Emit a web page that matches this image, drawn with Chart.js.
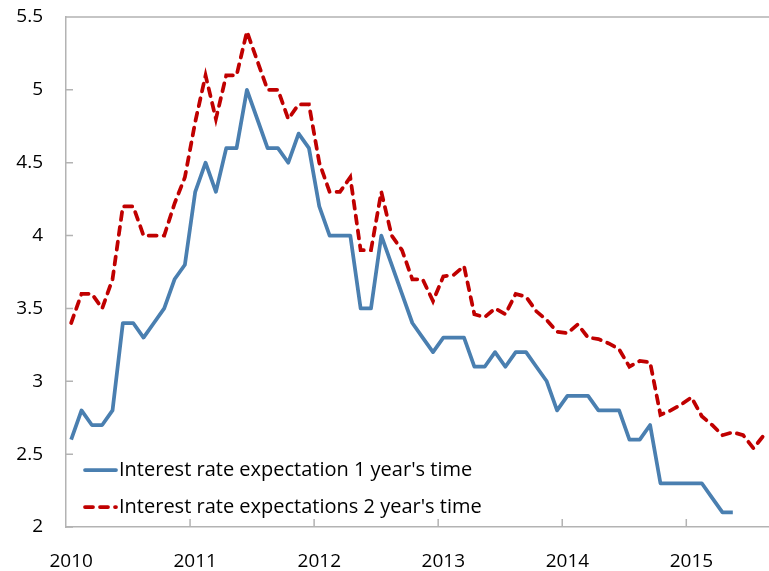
<!DOCTYPE html>
<html>
<head>
<meta charset="utf-8">
<script src="https://cdn.jsdelivr.net/npm/chart.js@4"></script>
<style>
    html, body { margin: 0; padding: 0; background: #fff; }
    #wrap { width: 769px; height: 571px; }
</style>
</head>
<body>
<div id="wrap"><canvas id="rateChart" width="769" height="571"></canvas></div>
<script>
const years = ['2010', '2011', '2012', '2013', '2014', '2015'];
const monthsIn2015 = 8;

// one label per month, Jan 2010 - Aug 2015
const months = [];
years.forEach(y => {
    const n = y === '2015' ? monthsIn2015 : 12;
    for (let m = 1; m <= n; m++) months.push(y + '-' + String(m).padStart(2, '0'));
});

const oneYear = [
    2.6, 2.8, 2.7, 2.7, 2.8, 3.4, 3.4, 3.3, 3.4, 3.5, 3.7, 3.8,
    4.3, 4.5, 4.3, 4.6, 4.6, 5.0, 4.8, 4.6, 4.6, 4.5, 4.7, 4.6,
    4.2, 4.0, 4.0, 4.0, 3.5, 3.5, 4.0, 3.8, 3.6, 3.4, 3.3, 3.2,
    3.3, 3.3, 3.3, 3.1, 3.1, 3.2, 3.1, 3.2, 3.2, 3.1, 3.0, 2.8,
    2.9, 2.9, 2.9, 2.8, 2.8, 2.8, 2.6, 2.6, 2.7, 2.3, 2.3, 2.3,
    2.3, 2.3, 2.2, 2.1, 2.1
];

const twoYear = [
    3.4, 3.6, 3.6, 3.5, 3.7, 4.2, 4.2, 4.0, 4.0, 4.0, 4.22, 4.4,
    4.78, 5.1, 4.8, 5.1, 5.1, 5.4, 5.2, 5.0, 5.0, 4.8, 4.9, 4.9,
    4.5, 4.3, 4.3, 4.4, 3.9, 3.9, 4.3, 4.0, 3.9, 3.7, 3.7, 3.55,
    3.72, 3.73, 3.79, 3.46, 3.44, 3.5, 3.46, 3.6, 3.58, 3.48, 3.42, 3.34,
    3.33, 3.39, 3.3, 3.29, 3.26, 3.22, 3.1, 3.14, 3.13, 2.77, 2.8, 2.84,
    2.89, 2.76, 2.7, 2.63, 2.65, 2.63, 2.54, 2.63
];

const seriesNames = [
    "Interest rate expectation 1 year's time",
    "Interest rate expectations 2 year's time"
];

const FONT = "'Open Sans', 'Noto Sans', sans-serif";
const AXIS_GREY = '#b3b3b3';

// top border, inward tick marks and the in-plot legend
const framePlugin = {
    id: 'frame',
    afterDraw(chart) {
        const ctx = chart.ctx;
        const area = chart.chartArea;
        const xs = chart.scales.x;
        const ys = chart.scales.y;
        ctx.save();
        ctx.strokeStyle = AXIS_GREY;
        ctx.lineWidth = 1.5;
        ctx.beginPath();
        ctx.moveTo(area.left, area.top);
        ctx.lineTo(area.right, area.top);
        ys.ticks.forEach(t => {
            const y = ys.getPixelForValue(t.value);
            ctx.moveTo(area.left, y);
            ctx.lineTo(area.left + 7, y);
        });
        months.forEach((m, i) => {
            if (i > 0 && m.endsWith('-01')) {
                const x = (xs.getPixelForValue(i - 1) + xs.getPixelForValue(i)) / 2;
                ctx.moveTo(x, area.bottom);
                ctx.lineTo(x, area.bottom - 8);
            }
        });
        ctx.stroke();

        // legend
        const rows = [area.bottom - 57, area.bottom - 20];
        const lx = area.left + 19;
        chart.data.datasets.forEach((ds, i) => {
            const y = rows[i];
            ctx.beginPath();
            ctx.strokeStyle = ds.borderColor;
            ctx.lineWidth = ds.borderWidth;
            ctx.lineCap = 'round';
            ctx.setLineDash(ds.borderDash || []);
            ctx.moveTo(lx, y);
            ctx.lineTo(lx + 31, y);
            ctx.stroke();
            ctx.setLineDash([]);
            ctx.fillStyle = '#000';
            ctx.font = '20px ' + FONT;
            ctx.textBaseline = 'middle';
            ctx.fillText(ds.label, lx + 34, y);
        });
        ctx.restore();
    }
};

document.addEventListener('DOMContentLoaded', () => {
    const ctx = document.getElementById('rateChart').getContext('2d');

    new Chart(ctx, {
        type: 'line',
        data: {
            labels: months,
            datasets: [{
                label: seriesNames[0],
                data: oneYear,
                borderColor: '#4a7fb0',
                borderWidth: 3.75,
                pointRadius: 0,
                tension: 0,
                borderJoinStyle: 'round'
            }, {
                label: seriesNames[1],
                data: twoYear,
                borderColor: '#c00000',
                borderWidth: 3.75,
                borderDash: [8, 7],
                borderCapStyle: 'round',
                pointRadius: 0,
                tension: 0
            }]
        },
        options: {
            responsive: false,
            animation: false,
            layout: { padding: { top: 17, right: 0, left: 0, bottom: 0 } },
            plugins: {
                legend: { display: false },
                tooltip: { enabled: false }
            },
            scales: {
                x: {
                    type: 'category',
                    offset: true,
                    grid: { display: false, offset: true },
                    border: { display: true, color: AXIS_GREY, width: 1.5 },
                    ticks: {
                        autoSkip: false,
                        maxRotation: 0,
                        padding: 15,
                        color: '#000',
                        font: { family: FONT, size: 19 },
                        callback: function(val, i) {
                            const m = months[i];
                            return m.endsWith('-01') ? m.slice(0, 4) : '';
                        }
                    },
                    afterFit: scale => {
                        scale.height = 44;
                        scale.paddingLeft = 0;
                        scale.paddingRight = 0;
                    }
                },
                y: {
                    min: 2,
                    max: 5.5,
                    grid: { display: false, drawTicks: false },
                    border: { display: true, color: AXIS_GREY, width: 1.5 },
                    ticks: {
                        stepSize: 0.5,
                        padding: 23,
                        color: '#000',
                        font: { family: FONT, size: 19 },
                        callback: v => String(v)
                    },
                    afterFit: scale => {
                        scale.width = 66;
                        scale.paddingTop = 0;
                        scale.paddingBottom = 0;
                    }
                }
            }
        },
        plugins: [framePlugin]
    });
});
</script>
</body>
</html>
